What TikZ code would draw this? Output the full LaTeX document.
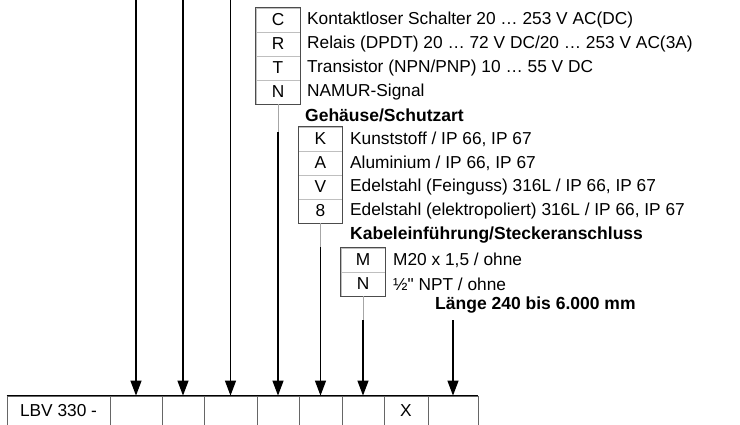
\documentclass[tikz,border=0pt]{standalone}
\usepackage{fontspec}
\setmainfont{Liberation Sans}
\usepackage{tikz}
\usetikzlibrary{arrows.meta}
\tikzset{>={Triangle[width=11pt,length=15pt]}}
\tikzset{
  codebox/.style={draw=black!25, line width=0.7pt, minimum width=44pt, minimum height=24pt, inner sep=0pt},
  desc/.style={anchor=west, inner sep=0pt},
  heading/.style={anchor=west, inner sep=0pt, font=\fontsize{17.5}{20}\selectfont\bfseries},
  cell/.style={draw=black!60, line width=0.8pt, minimum height=30pt, inner sep=0pt},
  feed/.style={black!35, line width=0.8pt},
  pick/.style={->, line width=1.2pt}
}

\begin{document}
\begin{tikzpicture}[x=1pt, y=-1pt, font=\fontsize{17.3}{20}\selectfont]
                \useasboundingbox (0,0) rectangle (740,424);
                % Ausgang
                \node[codebox] (c) at (278,20) {C};
                \node[codebox] (r) at (278,44) {R};
                \node[codebox] (t) at (278,68) {T};
                \node[codebox] (n) at (278,92) {N};
                \draw[black!70, line width=0.8pt] (c.north west) rectangle (n.south east);
                \node[desc] (tc) at (307,20) {Kontaktloser Schalter 20 … 253 V AC(DC)};
                \node[desc] (tr) at (307,44) {Relais (DPDT) 20 … 72 V DC/20 … 253 V AC(3A)};
                \node[desc] (tt) at (307,68) {Transistor (NPN/PNP) 10 … 55 V DC};
                \node[desc] (tn) at (307,92) {NAMUR-Signal};
                % Gehäuse
                \node[heading] (hgeh) at (305,115) {Gehäuse/Schutzart};
                \node[codebox] (k) at (320.5,139) {K};
                \node[codebox] (a) at (320.5,163) {A};
                \node[codebox] (v) at (320.5,187) {V};
                \node[codebox] (e) at (320.5,211) {8};
                \draw[black!70, line width=0.8pt] (k.north west) rectangle (e.south east);
                \node[desc] (tk) at (350,139) {Kunststoff / IP 66, IP 67};
                \node[desc] (ta) at (350,163) {Aluminium / IP 66, IP 67};
                \node[desc] (tv) at (350,187) {Edelstahl (Feinguss) 316L / IP 66, IP 67};
                \node[desc] (te) at (350,211) {Edelstahl (elektropoliert) 316L / IP 66, IP 67};
                % Kabeleinführung
                \node[heading] (hkab) at (350,235) {Kabeleinführung/Steckeranschluss};
                \node[codebox] (m) at (363,260) {M};
                \node[codebox] (p) at (363,284) {N};
                \draw[black!70, line width=0.8pt] (m.north west) rectangle (p.south east);
                \node[desc] (tm) at (393,260) {M20 x 1,5 / ohne};
                \node[desc] (tp) at (393,284) {½\textquotedbl{} NPT / ohne};
                % Länge
                \node[heading] (hlen) at (435,305) {Länge 240 bis 6.000 mm};
                % Typschlüssel
                \node[cell, minimum width=103pt] (lbv) at (58.5,411) {LBV 330 -};
                \node[cell, minimum width=52pt] (s1) at (136,411) {};
                \node[cell, minimum width=42pt] (s2) at (183,411) {};
                \node[cell, minimum width=53pt] (s3) at (230.5,411) {};
                \node[cell, minimum width=42pt] (s4) at (278,411) {};
                \node[cell, minimum width=43pt] (s5) at (320.5,411) {};
                \node[cell, minimum width=42pt] (s6) at (363,411) {};
                \node[cell, minimum width=44pt] (s7) at (406,411) {X};
                \node[cell, minimum width=50pt] (s8) at (453,411) {};
                \draw[line width=0.8pt] (lbv.north west) -- (s8.north east);
                % Zuleitungen
                \coordinate (q1) at (136,0);
                \coordinate (q2) at (183,0);
                \coordinate (q3) at (230.5,0);
                \coordinate (q4) at (278,132);
                \coordinate (q5) at (320.5,247);
                \coordinate (q6) at (363,320);
                \coordinate (q8) at (453,320);
                \draw[feed] (n.south) -- (q4);
                \draw[feed] (e.south) -- (q5);
                \draw[feed] (p.south) -- (q6);
                \draw[pick] (q1) -- (s1.north);
                \draw[pick] (q2) -- (s2.north);
                \draw[pick] (q3) -- (s3.north);
                \draw[pick] (q4) -- (s4.north);
                \draw[pick] (q5) -- (s5.north);
                \draw[pick] (q6) -- (s6.north);
                \draw[pick] (q8) -- (s8.north);
\end{tikzpicture}
\end{document}
